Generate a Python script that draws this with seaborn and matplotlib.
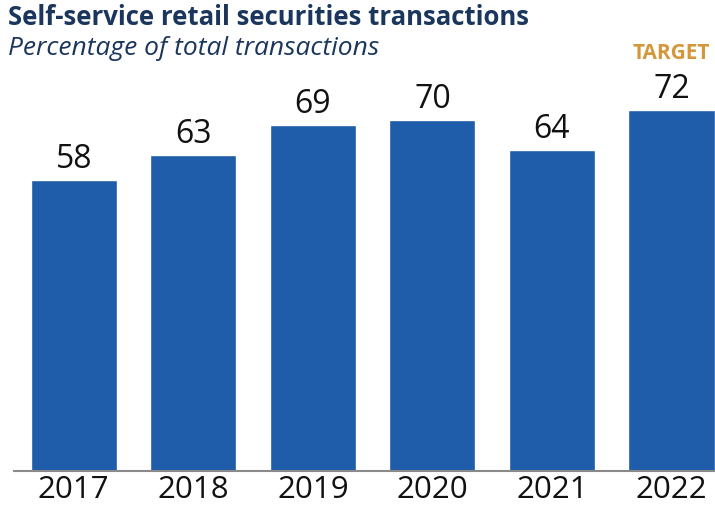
import matplotlib
matplotlib.use("Agg")
import matplotlib.pyplot as plt
import seaborn as sns
import pandas as pd

years = ["2017", "2018", "2019", "2020", "2021", "2022"]
values = [58, 63, 69, 70, 64, 72]
target_label = "TARGET"
title = "Self-service retail securities transactions"
subtitle = "Percentage of total transactions"

sns.set_theme(style="white")
plt.rcParams['font.family'] = ['Open Sans', 'DejaVu Sans']

df = pd.DataFrame({"year": years, "value": values})

fig = plt.figure(figsize=(7.15, 5.07), dpi=100)
ax = fig.add_axes([14 / 715, 1 - 471 / 507, 1 - 14 / 715, 471 / 507])
sns.barplot(data=df, x="year", y="value", color="#1f5ca9", width=0.72,
            saturation=1, ax=ax)
ax.set_xlim(-0.5, 5.364)
ax.set_ylim(0, 93.9)
ax.set_xlabel("")
ax.set_ylabel("")
ax.set_yticks([])
for s in ["top", "right", "left"]:
    ax.spines[s].set_visible(False)
ax.spines["bottom"].set_color("#8a8a8a")
ax.spines["bottom"].set_linewidth(1.5)
ax.tick_params(axis="x", length=0, pad=3, labelsize=22.5, labelcolor="#111111")

for i, v in enumerate(values):
    ax.annotate(str(v), (i, v), xytext=(0, 3), textcoords="offset points",
                ha="center", va="bottom", fontsize=23, color="#111111")
ax.annotate(target_label, (5, values[5]), xytext=(0, 33), textcoords="offset points",
            ha="center", va="bottom", fontsize=15, fontweight="bold", color="#d4973a")

fig.text(8 / 715, 1 - 4 / 507, title, ha="left", va="top", fontsize=18.5,
         fontweight="bold", color="#1b365d")
fig.text(8 / 715, 1 - 36 / 507, subtitle, ha="left", va="top", fontsize=19,
         fontstyle="italic", color="#1b365d")

fig.savefig("out.png", dpi=100)
